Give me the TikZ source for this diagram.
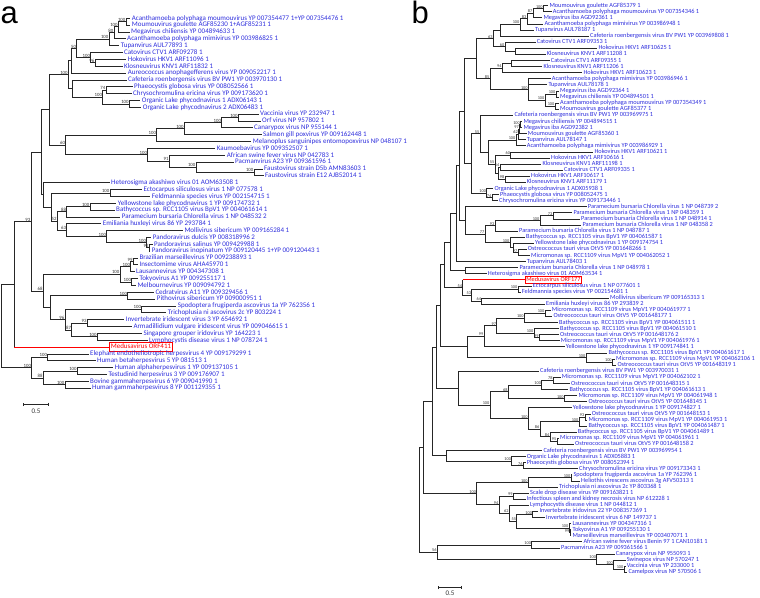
\documentclass[tikz,border=0pt]{standalone}
\usepackage{fontspec}
\setmainfont{Carlito}
\newfontfamily\panelfont{Liberation Sans}
\usetikzlibrary{calc,arrows.meta}
\definecolor{leafblue}{RGB}{45,45,220}
\newcommand\lfa[4]{\node[leafa] (#3) at ({#2-1.5},{18.3+6.85*(#1-1)}) {#4};}
\newcommand\lfb[4]{\node[leafb] (#3) at ({#2-1.2},{5.7+6.093*(#1-1)}) {#4};}
\newcommand\cna[5]{%
  \coordinate (#1-m) at ($(#4)!0.5!(#5)$);
  \coordinate (#1) at (#1-m -| #2,0);
  \draw[br] (#1) |- (#4);
  \draw[br] (#1) |- (#5);
  \node[bsa] (#1-l) at (#1) {#3};}
\newcommand\cnb[5]{%
  \coordinate (#1-m) at ($(#4)!0.5!(#5)$);
  \coordinate (#1) at (#1-m -| #2,0);
  \draw[br] (#1) |- (#4);
  \draw[br] (#1) |- (#5);
  \node[bsb] (#1-l) at (#1) {#3};}
\newcommand\cntb[6]{%
  \coordinate (#1-m) at ($(#4)!0.5!(#6)$);
  \coordinate (#1) at (#1-m -| #2,0);
  \draw[br] (#1) |- (#4);
  \draw[br] (#1) |- (#5);
  \draw[br] (#1) |- (#6);
  \node[bsb] (#1-l) at (#1) {#3};}
\begin{document}
\begin{tikzpicture}[x=1pt,y=-1pt,
  br/.style={line width=0.85pt, draw=black!85},
  redl/.style={line width=0.85pt, draw=red},
  leafa/.style={anchor=west, inner xsep=1.5pt, inner ysep=0.2pt, text height=4.9pt, text depth=1.4pt, font=\fontsize{7}{8}\selectfont, text=leafblue},
  leafb/.style={anchor=west, inner xsep=1.2pt, inner ysep=0.2pt, text height=4.4pt, text depth=1.3pt, font=\fontsize{6.3}{7}\selectfont, text=leafblue},
  meda/.style={anchor=west, draw=red, line width=0.7pt, text=red, inner xsep=1.2pt, inner ysep=1.2pt, text height=4.9pt, text depth=1.4pt, font=\fontsize{7}{8}\selectfont},
  medb/.style={anchor=west, draw=red, line width=0.7pt, text=red, inner xsep=1pt, inner ysep=1pt, text height=4.4pt, text depth=1.3pt, font=\fontsize{6.3}{7}\selectfont},
  bsa/.style={anchor=south east, inner sep=0.2pt, xshift=-0.3pt, font=\fontsize{4.8}{5.5}\selectfont, text=black!80},
  bsb/.style={anchor=south east, inner sep=0.2pt, xshift=-0.3pt, font=\fontsize{4.3}{5}\selectfont, text=black!80},
  panel/.style={anchor=base west, inner sep=0pt, font=\panelfont\fontsize{31}{31}\selectfont},
  scl/.style={inner sep=0.5pt, font=\fontsize{7}{8}\selectfont, text=black!80},
  sbar/.style={line width=0.85pt, draw=black!85, {Bar[width=3.5pt]}-{Bar[width=3.5pt]}}
]
\useasboundingbox (0,0) rectangle (760,597);
\node[panel] (pa) at (0.5,23.3) {a};
\node[panel] (pb) at (411.3,23.3) {b};
% ---------------- tree a leaves
\lfa{1}{131.7}{La1}{Acanthamoeba polyphaga moumouvirus YP 007354477 1+YP 007354476 1}
\lfa{2}{131.7}{La2}{Moumouvirus goulette AGF85230 1+AGF85231 1}
\lfa{3}{131}{La3}{Megavirus chiliensis YP 004894633 1}
\lfa{4}{127}{La4}{Acanthamoeba polyphaga mimivirus YP 003986825 1}
\lfa{5}{120.7}{La5}{Tupanvirus AUL77893 1}
\lfa{6}{124}{La6}{Catovirus CTV1 ARF09278 1}
\lfa{7}{127.7}{La7}{Hokovirus HKV1 ARF11096 1}
\lfa{8}{124}{La8}{Klosneuvirus KNV1 ARF11832 1}
\lfa{9}{127.7}{La9}{Aureococcus anophagefferens virus YP 009052217 1}
\lfa{10}{128}{La10}{Cafeteria roenbergensis virus BV PW1 YP 003970130 1}
\lfa{11}{134}{La11}{Phaeocystis globosa virus YP 008052566 1}
\lfa{12}{133}{La12}{Chrysochromulina ericina virus YP 009173620 1}
\lfa{13}{141.7}{La13}{Organic Lake phycodnavirus 1 ADX06143 1}
\lfa{14}{142.7}{La14}{Organic Lake phycodnavirus 2 ADX06483 1}
\lfa{15}{260}{La15}{Vaccinia virus YP 232947 1}
\lfa{16}{262}{La16}{Orf virus NP 957802 1}
\lfa{17}{254}{La17}{Canarypox virus NP 955144 1}
\lfa{18}{263}{La18}{Salmon gill poxvirus YP 009162448 1}
\lfa{19}{252.7}{La19}{Melanoplus sanguinipes entomopoxvirus NP 048107 1}
\lfa{20}{216.7}{La20}{Kaumoebavirus YP 009352507 1}
\lfa{21}{226.7}{La21}{African swine fever virus NP 042783 1}
\lfa{22}{235}{La22}{Pacmanvirus A23 YP 009361596 1}
\lfa{23}{264}{La23}{Faustovirus strain D5b AMN83603 1}
\lfa{24}{265}{La24}{Faustovirus strain E12 AJB52014 1}
\lfa{25}{111}{La25}{Heterosigma akashiwo virus 01 AOM63508 1}
\lfa{26}{143.3}{La26}{Ectocarpus siliculosus virus 1 NP 077578 1}
\lfa{27}{151.7}{La27}{Feldmannia species virus YP 002154715 1}
\lfa{28}{117.7}{La28}{Yellowstone lake phycodnavirus 1 YP 009174732 1}
\lfa{29}{116}{La29}{Bathycoccus sp. RCC1105 virus BpV1 YP 004061614 1}
\lfa{30}{121.7}{La30}{Paramecium bursaria Chlorella virus 1 NP 048532 2}
\lfa{31}{102.7}{La31}{Emiliania huxleyi virus 86 YP 293784 1}
\lfa{32}{184.3}{La32}{Mollivirus sibericum YP 009165284 1}
\lfa{33}{152.7}{La33}{Pandoravirus dulcis YP 008318996 2}
\lfa{34}{154}{La34}{Pandoravirus salinus YP 009429988 1}
\lfa{35}{151.7}{La35}{Pandoravirus inopinatum YP 009120445 1+YP 009120443 1}
\lfa{36}{139.3}{La36}{Brazilian marseillevirus YP 009238893 1}
\lfa{37}{139.3}{La37}{Insectomime virus AHA45970 1}
\lfa{38}{136}{La38}{Lausannevirus YP 004347308 1}
\lfa{39}{139.3}{La39}{Tokyovirus A1 YP 009255117 1}
\lfa{40}{137.3}{La40}{Melbournevirus YP 009094792 1}
\lfa{41}{155.3}{La41}{Cedratvirus A11 YP 009329456 1}
\lfa{42}{156.7}{La42}{Pithovirus sibericum YP 009000951 1}
\lfa{43}{177.7}{La43}{Spodoptera frugiperda ascovirus 1a YP 762356 1}
\lfa{44}{167.7}{La44}{Trichoplusia ni ascovirus 2c YP 803224 1}
\lfa{45}{125.7}{La45}{Invertebrate iridescent virus 3 YP 654692 1}
\lfa{46}{133.3}{La46}{Armadillidium vulgare iridescent virus YP 009046615 1}
\lfa{47}{143.3}{La47}{Singapore grouper iridovirus YP 164223 1}
\lfa{48}{149}{La48}{Lymphocystis disease virus 1 NP 078724 1}
\node[meda] (Med) at (109.3,{18.3+6.85*48}) {Medusavirus ORF411};
\lfa{50}{90}{La50}{Elephant endotheliotropic herpesvirus 4 YP 009179299 1}
\lfa{51}{97}{La51}{Human betaherpesvirus 5 YP 081513 1}
\lfa{52}{114.7}{La52}{Human alphaherpesvirus 1 YP 009137105 1}
\lfa{53}{108.3}{La53}{Testudinid herpesvirus 3 YP 009176907 1}
\lfa{54}{90}{La54}{Bovine gammaherpesvirus 6 YP 009041990 1}
\lfa{55}{92}{La55}{Human gammaherpesvirus 8 YP 001129355 1}
% ---------------- tree a inner nodes
\cna{aA1}{126}{100}{La1}{La2}
\cna{aB}{118.3}{100}{aA1}{La3}
\cna{aC}{114}{80}{aB}{La4}
\cna{aD}{109}{100}{aC}{La5}
\cna{aG}{95}{96}{La7}{La8}
\cna{aF}{90.7}{100}{La6}{aG}
\cna{aE}{76.7}{50}{aD}{aF}
\cna{aI1}{71}{}{aE}{La9}
\cna{aM}{106}{74}{La11}{La12}
\cna{aN}{129.3}{100}{La13}{La14}
\cna{aL}{102.7}{100}{aM}{aN}
\cna{aK}{72.7}{}{La10}{aL}
\cna{aI}{68.3}{100}{aI1}{aK}
\cna{aT}{238.3}{100}{La15}{La16}
\cna{aS}{221.7}{100}{aT}{La17}
\cna{aR}{184.3}{100}{aS}{La18}
\cna{aP}{156.7}{100}{aR}{La19}
\cna{aW}{254}{100}{La23}{La24}
\cna{aV}{196}{100}{La22}{aW}
\cna{aU}{169.3}{91}{La21}{aV}
\cna{aQ}{147.7}{100}{La20}{aU}
\cna{aJ}{65.7}{60}{aP}{aQ}
\cna{aY}{49.3}{}{aI}{aJ}
\cna{aEc}{110}{100}{La26}{La27}
\cna{aPA}{149.3}{92}{La34}{La35}
\cna{aPB}{146.7}{100}{La33}{aPA}
\cna{aMol}{106.7}{100}{La32}{aPB}
\cna{aNs}{66.7}{63}{La31}{aMol}
\cna{aYB}{90}{100}{La28}{La29}
\cna{aNe}{66.7}{88}{aYB}{La30}
\cna{aNf}{57.3}{52}{aNe}{aNs}
\cna{aPhy}{51.7}{}{aEc}{aNf}
\cna{aHet}{43.3}{}{La25}{aPhy}
\cna{aZ}{41.7}{}{aY}{aHet}
\cna{amA}{133.3}{99}{La36}{La37}
\cna{amB}{130.7}{100}{amA}{La38}
\cna{amC}{131.7}{100}{La39}{La40}
\cna{amD}{120}{100}{amB}{amC}
\cna{aCe}{127.7}{100}{La41}{La42}
\cna{aAs}{141.7}{100}{La43}{La44}
\cna{aIrA}{87.3}{93}{La45}{La46}
\cna{aIrB}{97.3}{100}{La47}{La48}
\cna{aIr}{71.7}{87}{aIrA}{aIrB}
\cna{aNn}{65}{96}{aAs}{aIr}
\cna{aNt}{50}{}{aCe}{aNn}
\cna{aNx}{43.3}{68}{amD}{aNt}
\cna{aZt}{31}{93}{aZ}{aNx}
\coordinate (aNm-m) at ($(aZt)!0.5!(Med)$);
\coordinate (aNm) at (aNm-m -| 14,0);
\draw[br] (aNm) |- (aZt);
\draw[br] (aNm) -- (aNm |- Med);
\draw[redl] (aNm |- Med) -- (Med);
\cna{ahA}{47.7}{100}{La50}{La51}
\cna{ahC}{77.3}{100}{La52}{La53}
\cna{ahD}{65}{100}{La54}{La55}
\cna{ahB}{43.3}{88}{ahC}{ahD}
\cna{aH}{31.7}{100}{ahA}{ahB}
\cna{aRoot}{1.7}{}{aNm}{aH}
\coordinate (sa1) at (22.7,404.3);
\coordinate (sa2) at (49,404.3);
\draw[sbar] (sa1) -- (sa2);
\node[scl] (sla) at (36,411) {0.5};
% ---------------- tree b leaves
\lfb{1}{549.3}{Lb1}{Moumouvirus goulette AGF85379 1}
\lfb{2}{552.7}{Lb2}{Acanthamoeba polyphaga moumouvirus YP 007354346 1}
\lfb{3}{543.3}{Lb3}{Megavirus iba AGD92361 1}
\lfb{4}{544.3}{Lb4}{Acanthamoeba polyphaga mimivirus YP 003986948 1}
\lfb{5}{535}{Lb5}{Tupanvirus AUL78187 1}
\lfb{6}{590}{Lb6}{Cafeteria roenbergensis virus BV PW1 YP 003969808 1}
\lfb{7}{536.7}{Lb7}{Catovirus CTV1 ARF09353 1}
\lfb{8}{598.3}{Lb8}{Hokovirus HKV1 ARF10625 1}
\lfb{9}{546.7}{Lb9}{Klosneuvirus KNV1 ARF11208 1}
\lfb{10}{550.7}{Lb10}{Catovirus CTV1 ARF09355 1}
\lfb{11}{543.3}{Lb11}{Klosneuvirus KNV1 ARF11206 1}
\lfb{12}{583.3}{Lb12}{Hokovirus HKV1 ARF10623 1}
\lfb{13}{551.7}{Lb13}{Acanthamoeba polyphaga mimivirus YP 003986946 1}
\lfb{14}{548.3}{Lb14}{Tupanvirus AUL78178 1}
\lfb{15}{560}{Lb15}{Megavirus iba AGD92364 1}
\lfb{16}{560}{Lb16}{Megavirus chiliensis YP 004894501 1}
\lfb{17}{560}{Lb17}{Acanthamoeba polyphaga moumouvirus YP 007354349 1}
\lfb{18}{560}{Lb18}{Moumouvirus goulette AGF85377 1}
\lfb{19}{514.3}{Lb19}{Cafeteria roenbergensis virus BV PW1 YP 003969975 1}
\lfb{20}{523.3}{Lb20}{Megavirus chiliensis YP 004894515 1}
\lfb{21}{523.3}{Lb21}{Megavirus iba AGD92382 1}
\lfb{22}{527.7}{Lb22}{Moumouvirus goulette AGF85360 1}
\lfb{23}{526.7}{Lb23}{Tupanvirus AUL78147 1}
\lfb{24}{526.7}{Lb24}{Acanthamoeba polyphaga mimivirus YP 003986929 1}
\lfb{25}{594.3}{Lb25}{Hokovirus HKV1 ARF10621 1}
\lfb{26}{551}{Lb26}{Hokovirus HKV1 ARF10616 1}
\lfb{27}{542.3}{Lb27}{Klosneuvirus KNV1 ARF11198 1}
\lfb{28}{564}{Lb28}{Catovirus CTV1 ARF09335 1}
\lfb{29}{531}{Lb29}{Hokovirus HKV1 ARF10617 1}
\lfb{30}{526.7}{Lb30}{Klosneuvirus KNV1 ARF11179 1}
\lfb{31}{494.3}{Lb31}{Organic Lake phycodnavirus 1 ADX05938 1}
\lfb{32}{500}{Lb32}{Phaeocystis globosa virus YP 008052475 1}
\lfb{33}{499}{Lb33}{Chrysochromulina ericina virus YP 009173446 1}
\lfb{34}{587.7}{Lb34}{Paramecium bursaria Chlorella virus 1 NP 048739 2}
\lfb{35}{573.3}{Lb35}{Paramecium bursaria Chlorella virus 1 NP 048359 1}
\lfb{36}{581}{Lb36}{Paramecium bursaria Chlorella virus 1 NP 048914 1}
\lfb{37}{582.3}{Lb37}{Paramecium bursaria Chlorella virus 1 NP 048358 2}
\lfb{38}{519}{Lb38}{Paramecium bursaria Chlorella virus 1 NP 048787 1}
\lfb{39}{526}{Lb39}{Bathycoccus sp. RCC1105 virus BpV1 YP 004061587 1}
\lfb{40}{535}{Lb40}{Yellowstone lake phycodnavirus 1 YP 009174754 1}
\lfb{41}{527.7}{Lb41}{Ostreococcus tauri virus OtV5 YP 001648266 1}
\lfb{42}{531}{Lb42}{Micromonas sp. RCC1109 virus MpV1 YP 004062052 1}
\lfb{43}{526.7}{Lb43}{Tupanvirus AUL78403 1}
\lfb{44}{519.3}{Lb44}{Paramecium bursaria Chlorella virus 1 NP 048978 1}
\lfb{45}{487.7}{Lb45}{Heterosigma akashiwo virus 01 AOM63534 1}
\node[medb] (MedB) at (525,{5.7+6.093*45}) {Medusavirus ORF177};
\lfb{47}{532.7}{Lb47}{Ectocarpus siliculosus virus 1 NP 077601 1}
\lfb{48}{521.7}{Lb48}{Feldmannia species virus YP 002154681 1}
\lfb{49}{610}{Lb49}{Mollivirus sibericum YP 009165313 1}
\lfb{50}{546}{Lb50}{Emiliania huxleyi virus 86 YP 293839 2}
\lfb{51}{551.7}{Lb51}{Micromonas sp. RCC1109 virus MpV1 YP 004061977 1}
\lfb{52}{553.3}{Lb52}{Ostreococcus tauri virus OtV5 YP 001648177 1}
\lfb{53}{559}{Lb53}{Bathycoccus sp. RCC1105 virus BpV1 YP 004061511 1}
\lfb{54}{560}{Lb54}{Bathycoccus sp. RCC1105 virus BpV1 YP 004061510 1}
\lfb{55}{560}{Lb55}{Ostreococcus tauri virus OtV5 YP 001648176 2}
\lfb{56}{560.7}{Lb56}{Micromonas sp. RCC1109 virus MpV1 YP 004061976 1}
\lfb{57}{565.7}{Lb57}{Yellowstone lake phycodnavirus 1 YP 009174841 1}
\lfb{58}{608.3}{Lb58}{Bathycoccus sp. RCC1105 virus BpV1 YP 004061617 1}
\lfb{59}{616}{Lb59}{Micromonas sp. RCC1109 virus MpV1 YP 004062106 1}
\lfb{60}{617.3}{Lb60}{Ostreococcus tauri virus OtV5 YP 001648319 1}
\lfb{61}{540}{Lb61}{Cafeteria roenbergensis virus BV PW1 YP 003970031 1}
\lfb{62}{561.7}{Lb62}{Micromonas sp. RCC1109 virus MpV1 YP 004062102 1}
\lfb{63}{571}{Lb63}{Ostreococcus tauri virus OtV5 YP 001648315 1}
\lfb{64}{569.3}{Lb64}{Bathycoccus sp. RCC1105 virus BpV1 YP 004061613 1}
\lfb{65}{578.3}{Lb65}{Micromonas sp. RCC1109 virus MpV1 YP 004061948 1}
\lfb{66}{588.3}{Lb66}{Ostreococcus tauri virus OtV5 YP 001648145 1}
\lfb{67}{572.7}{Lb67}{Yellowstone lake phycodnavirus 1 YP 009174827 1}
\lfb{68}{591.7}{Lb68}{Ostreococcus tauri virus OtV5 YP 001648153 1}
\lfb{69}{588.3}{Lb69}{Micromonas sp. RCC1109 virus MpV1 YP 004061953 1}
\lfb{70}{588.3}{Lb70}{Bathycoccus sp. RCC1105 virus BpV1 YP 004061487 1}
\lfb{71}{577.7}{Lb71}{Bathycoccus sp. RCC1105 virus BpV1 YP 004061489 1}
\lfb{72}{560}{Lb72}{Micromonas sp. RCC1109 virus MpV1 YP 004061961 1}
\lfb{73}{575}{Lb73}{Ostreococcus tauri virus OtV5 YP 001648158 2}
\lfb{74}{543.3}{Lb74}{Cafeteria roenbergensis virus BV PW1 YP 003969954 1}
\lfb{75}{526.7}{Lb75}{Organic Lake phycodnavirus 1 ADX05883 1}
\lfb{76}{526.7}{Lb76}{Phaeocystis globosa virus YP 008052394 1}
\lfb{77}{579}{Lb77}{Chrysochromulina ericina virus YP 009173343 1}
\lfb{78}{573.3}{Lb78}{Spodoptera frugiperda ascovirus 1a YP 762396 1}
\lfb{79}{581}{Lb79}{Heliothis virescens ascovirus 3g AFV50313 1}
\lfb{80}{559}{Lb80}{Trichoplusia ni ascovirus 2c YP 803368 1}
\lfb{81}{530}{Lb81}{Scale drop disease virus YP 009163821 1}
\lfb{82}{526.7}{Lb82}{Infectious spleen and kidney necrosis virus NP 612228 1}
\lfb{83}{530}{Lb83}{Lymphocystis disease virus 1 NP 044812 1}
\lfb{84}{539.3}{Lb84}{Invertebrate iridovirus 22 YP 008357369 1}
\lfb{85}{546}{Lb85}{Invertebrate iridescent virus 6 NP 149737 1}
\lfb{86}{572.3}{Lb86}{Lausannevirus YP 004347316 1}
\lfb{87}{572.3}{Lb87}{Tokyovirus A1 YP 009255130 1}
\lfb{88}{572.3}{Lb88}{Marseillevirus marseillevirus YP 003407071 1}
\lfb{89}{583.3}{Lb89}{African swine fever virus Benin 97 1 CAN10181 1}
\lfb{90}{561}{Lb90}{Pacmanvirus A23 YP 009361566 1}
\lfb{91}{615.7}{Lb91}{Canarypox virus NP 955093 1}
\lfb{92}{626.7}{Lb92}{Swinepox virus NP 570247 1}
\lfb{93}{626.7}{Lb93}{Vaccinia virus YP 233000 1}
\lfb{94}{628.3}{Lb94}{Camelpox virus NP 570506 1}
% ---------------- tree b inner nodes
\cnb{bnA}{543.3}{100}{Lb1}{Lb2}
\cnb{bnB}{533}{87}{bnA}{Lb3}
\cnb{bnC}{527}{83}{bnB}{Lb4}
\cnb{bnD}{520}{100}{bnC}{Lb5}
\cnb{bnE}{500}{}{bnD}{Lb6}
\cnb{bnG}{515}{}{Lb8}{Lb9}
\cnb{bnF}{505}{60}{Lb7}{bnG}
\cnb{bnH}{493.3}{63}{bnE}{bnF}
\cnb{bnJ}{511.7}{}{Lb10}{Lb11}
\cnb{bnI}{502.3}{94}{bnJ}{Lb12}
\cnb{bmA}{556}{100}{Lb15}{Lb16}
\cnb{bmB}{555}{100}{Lb17}{Lb18}
\cnb{bmC}{545}{100}{bmA}{bmB}
\cntb{bmD}{528.3}{100}{Lb13}{Lb14}{bmC}
\cnb{bnK}{490}{85}{bnI}{bmD}
\cnb{bnL}{476.7}{}{bnH}{bnK}
\cnb{bgA}{520.5}{100}{Lb20}{Lb21}
\cnb{bgB}{519.5}{97}{bgA}{Lb22}
\cnb{bgC}{518.5}{62}{bgB}{Lb23}
\cnb{bgD}{516}{100}{bgC}{Lb24}
\cnb{bhA}{510.7}{60}{Lb25}{Lb26}
\cnb{bhB}{500}{54}{Lb27}{Lb28}
\cnb{bhC}{505}{98}{Lb29}{Lb30}
\cnb{bhD}{498.3}{}{bhB}{bhC}
\cnb{bhE}{495}{55}{bhA}{bhD}
\cnb{bX}{488}{}{bgD}{bhE}
\cnb{bQ}{480}{55}{Lb19}{bX}
\cnb{bOb}{492}{74}{Lb32}{Lb33}
\cnb{bOa}{486.7}{100}{Lb31}{bOb}
\cnb{bNa}{471.7}{}{bQ}{bOa}
\cnb{bnM}{464}{}{bnL}{bNa}
\cnb{bcA}{553}{73}{Lb35}{Lb36}
\cnb{bcB}{540}{100}{bcA}{Lb37}
\cnb{bcC}{495}{93}{bcB}{Lb38}
\cnb{bBc}{518}{97}{Lb41}{Lb42}
\cnb{bBb}{513}{}{Lb40}{bBc}
\cnb{bBa}{510}{100}{Lb39}{bBb}
\cnb{bcD}{485}{77}{bcC}{bBa}
\cnb{bcE}{465}{}{Lb34}{bcD}
\cnb{bNb}{459}{}{bnM}{bcE}
\cnb{bcF}{456.7}{}{bNb}{Lb43}
\cnb{bHP}{465}{}{Lb44}{Lb45}
\cnb{bcG}{450}{}{bcF}{bHP}
\cnb{bEF}{518}{100}{Lb47}{Lb48}
\cnb{bMo}{481.7}{64}{Lb49}{Lb50}
\cnb{bEt}{471.7}{53}{bEF}{bMo}
\coordinate (bMe-m) at ($(MedB)!0.5!(bEt)$);
\coordinate (bMe) at (bMe-m -| 462.7,0);
\draw[br] (bMe) |- (bEt);
\draw[br] (bMe) -- (bMe |- MedB);
\draw[redl] (bMe |- MedB) -- (MedB);
\node[bsb] (bMe-l) at (bMe) {54};
\cnb{bcH}{444}{}{bcG}{bMe}
\cnb{bpA}{545}{100}{Lb51}{Lb52}
\cnb{bpB}{524.3}{100}{bpA}{Lb53}
\cnb{bpE}{539.3}{99}{Lb55}{Lb56}
\cnb{bpD}{534}{100}{Lb54}{bpE}
\cnb{bpC}{496.7}{97}{bpB}{bpD}
\cnb{bpF}{484}{99}{bpC}{Lb57}
\cnb{bpH}{612.3}{100}{Lb59}{Lb60}
\cnb{bpG}{586}{100}{Lb58}{bpH}
\cnb{bpI}{467.3}{}{bpF}{bpG}
\cnb{bD}{440}{}{bcH}{bpI}
\cnb{bqA}{553.3}{78}{Lb62}{Lb63}
\cnb{bqB}{541.7}{100}{bqA}{Lb64}
\cnb{bqC}{564.3}{100}{Lb65}{Lb66}
\cnb{bqD}{508.3}{68}{bqB}{bqC}
\cnb{bqG}{585}{93}{Lb68}{Lb69}
\cnb{bqH}{579}{100}{bqG}{Lb70}
\cnb{bqI}{557}{95}{Lb72}{Lb73}
\cnb{bqJ}{550}{84}{Lb71}{bqI}
\cnb{bqK}{540}{86}{bqH}{bqJ}
\cnb{bqF}{528.3}{100}{Lb67}{bqK}
\cnb{bqE}{490}{100}{bqD}{bqF}
\cnb{bqM}{458.3}{}{Lb61}{bqE}
\cnb{bC}{436}{}{bD}{bqM}
\cnb{boB}{523.3}{76}{Lb76}{Lb77}
\cnb{boA}{511.7}{100}{Lb75}{boB}
\cnb{bCO}{446.7}{}{Lb74}{boA}
\cnb{bB}{432.3}{}{bC}{bCO}
\cnb{baA}{571}{100}{Lb78}{Lb79}
\cnb{baB}{528.3}{100}{baA}{Lb80}
\cnb{biA}{513.3}{99}{Lb81}{Lb82}
\cnb{biC}{532.7}{100}{Lb84}{Lb85}
\cnb{biD}{570}{99}{Lb87}{Lb88}
\cnb{biE}{569}{100}{Lb86}{biD}
\cnb{biF}{516.7}{55}{biC}{biE}
\cnb{biG}{509.3}{62}{Lb83}{biF}
\cnb{biH}{499}{94}{biA}{biG}
\cnb{bAI}{476.7}{100}{baB}{biH}
\cnb{bA}{423.3}{}{bB}{bAI}
\cnb{bAP}{531.7}{100}{Lb89}{Lb90}
\cnb{bvc}{624}{100}{Lb93}{Lb94}
\cnb{bsw}{613.5}{100}{Lb92}{bvc}
\cnb{bpox}{596.7}{100}{Lb91}{bsw}
\cnb{bPf}{437.3}{56}{bAP}{bpox}
\cnb{bR}{419.3}{}{bA}{bPf}
\coordinate (sb1) at (438.3,587.7);
\coordinate (sb2) at (461.7,587.7);
\draw[sbar] (sb1) -- (sb2);
\node[scl] (slb) at (450,593.3) {0.5};
\end{tikzpicture}
\end{document}
